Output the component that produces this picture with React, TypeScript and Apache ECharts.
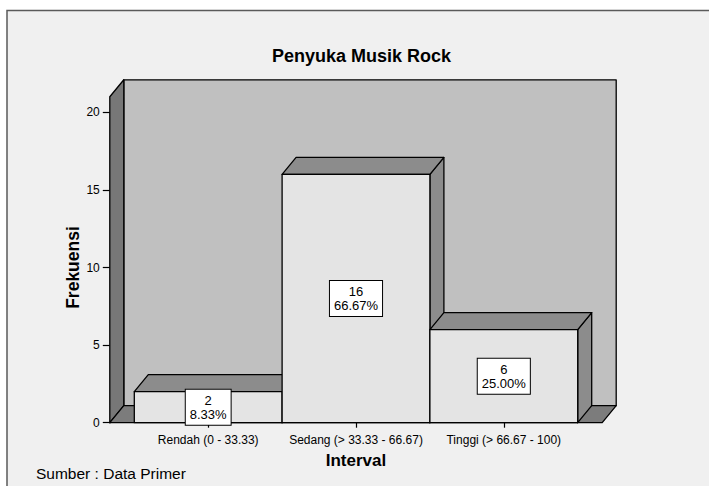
import React, { useEffect, useRef } from 'react';
import * as echarts from 'echarts';

const categories = ['Rendah (0 - 33.33)', 'Sedang (> 33.33 - 66.67)', 'Tinggi (> 66.67 - 100)'];
const frequencies = [2, 16, 6];
const percentLabels = ['8.33%', '66.67%', '25.00%'];
const yMin = 0;
const yMax = 20;
const yInterval = 5;
const wallTopValue = 21;

const FONT = '"Liberation Sans", Arial, Helvetica, sans-serif';
const DX = 14;
const DY = -17;
const SIDE_PAD = 24.5;

export default function App() {
  const ref = useRef<HTMLDivElement>(null);
  useEffect(() => {
    if (!ref.current) return;
    const chart = echarts.init(ref.current, undefined, { renderer: 'svg' });
    const option: any = {
      animation: false,
      backgroundColor: '#ffffff',
      title: {
        text: 'Penyuka Musik Rock',
        left: 272,
        top: 42,
        padding: [5, 0, 5, 0],
        textStyle: { fontSize: 18, fontWeight: 'bold', fontFamily: FONT, color: '#000' },
      },
      graphic: [
        {
          type: 'rect',
          z: -10,
          shape: { x: 7, y: 10.5, width: 800, height: 600 },
          style: { fill: '#f0f0f0', stroke: '#5a5a5a', lineWidth: 1.5 },
        },
        {
          type: 'text',
          left: 36,
          top: 465,
          style: { text: 'Sumber : Data Primer', fontSize: 15.5, fontFamily: FONT, fill: '#000' },
        },
      ],
      grid: { left: 134.3, right: 131.3, top: 112.3, bottom: 63.3 },
      xAxis: {
        type: 'category',
        data: categories,
        name: 'Interval',
        nameLocation: 'middle',
        nameGap: 29,
        nameMoveOverlap: false,
        nameTextStyle: { fontSize: 17, fontWeight: 'bold', fontFamily: FONT, color: '#000' },
        axisLine: { show: false },
        axisTick: { show: true, alignWithLabel: true, length: 5, lineStyle: { color: '#000', width: 1.2 } },
        axisLabel: { fontSize: 12, fontFamily: FONT, color: '#000', margin: 11, interval: 0 },
        splitLine: { show: false },
      },
      yAxis: {
        type: 'value',
        min: yMin,
        max: yMax,
        interval: yInterval,
        offset: SIDE_PAD,
        name: 'Frekuensi',
        nameLocation: 'middle',
        nameRotate: 90,
        nameGap: 28,
        nameMoveOverlap: false,
        nameTextStyle: { fontSize: 17.5, fontWeight: 'bold', fontFamily: FONT, color: '#000' },
        axisLine: { show: true, lineStyle: { color: '#000', width: 1.2 } },
        axisTick: { show: true, length: 7, lineStyle: { color: '#000', width: 1.2 } },
        axisLabel: { fontSize: 12, fontFamily: FONT, color: '#000', margin: 10 },
        splitLine: { show: false },
      },
      series: [
        {
          type: 'custom',
          z: 1,
          silent: true,
          data: [[0, 0]],
          renderItem: (params: any, api: any) => {
            const cs = params.coordSys;
            const y0 = api.coord([0, 0])[1];
            const yT = api.coord([0, wallTopValue])[1];
            const xL = cs.x - SIDE_PAD;
            const xR = cs.x + cs.width + SIDE_PAD;
            const stroke = { stroke: '#000', lineWidth: 1.3, lineJoin: 'round' };
            return {
              type: 'group',
              children: [
                {
                  type: 'polygon',
                  shape: { points: [[xL + DX, yT + DY], [xR + DX, yT + DY], [xR + DX, y0 + DY], [xL + DX, y0 + DY]] },
                  style: { fill: '#c0c0c0', ...stroke },
                },
                {
                  type: 'polygon',
                  shape: { points: [[xL, y0], [xL, yT], [xL + DX, yT + DY], [xL + DX, y0 + DY]] },
                  style: { fill: '#777777', ...stroke },
                },
                {
                  type: 'polygon',
                  shape: { points: [[xL, y0], [xR, y0], [xR + DX, y0 + DY], [xL + DX, y0 + DY]] },
                  style: { fill: '#7c7c7c', ...stroke },
                },
              ],
            };
          },
        },
        {
          type: 'custom',
          z: 2,
          data: frequencies.map((v, i) => [i, v]),
          renderItem: (params: any, api: any) => {
            const i = api.value(0);
            const v = api.value(1);
            const top = api.coord([i, v]);
            const base = api.coord([i, 0]);
            const bw = api.size([1, 0])[0];
            const x1 = top[0] - bw / 2;
            const x2 = top[0] + bw / 2;
            const yT = top[1];
            const yB = base[1];
            const stroke = { stroke: '#000', lineWidth: 1.3, lineJoin: 'round' };
            return {
              type: 'group',
              children: [
                {
                  type: 'polygon',
                  shape: { points: [[x2, yT], [x2 + DX, yT + DY], [x2 + DX, yB + DY], [x2, yB]] },
                  style: { fill: '#8c8c8c', ...stroke },
                },
                {
                  type: 'polygon',
                  shape: { points: [[x1, yT], [x2, yT], [x2 + DX, yT + DY], [x1 + DX, yT + DY]] },
                  style: { fill: '#8c8c8c', ...stroke },
                },
                {
                  type: 'rect',
                  shape: { x: x1, y: yT, width: bw, height: yB - yT },
                  style: { fill: '#e4e4e4', ...stroke },
                },
                {
                  type: 'text',
                  x: top[0],
                  y: (yT + yB) / 2,
                  style: {
                    text: `${frequencies[params.dataIndex]}\n${percentLabels[params.dataIndex]}`,
                    fontSize: 13,
                    fontFamily: FONT,
                    fill: '#000',
                    align: 'center',
                    verticalAlign: 'middle',
                    lineHeight: 14,
                    backgroundColor: '#ffffff',
                    borderColor: '#000',
                    borderWidth: 1,
                    padding: [4, 4, 3, 4],
                  },
                },
              ],
            };
          },
        },
      ],
    };
    chart.setOption(option);
    return () => chart.dispose();
  }, []);
  return <div ref={ref} style={{ position: 'fixed', left: 0, top: 0, width: 709, height: 486 }} />;
}
